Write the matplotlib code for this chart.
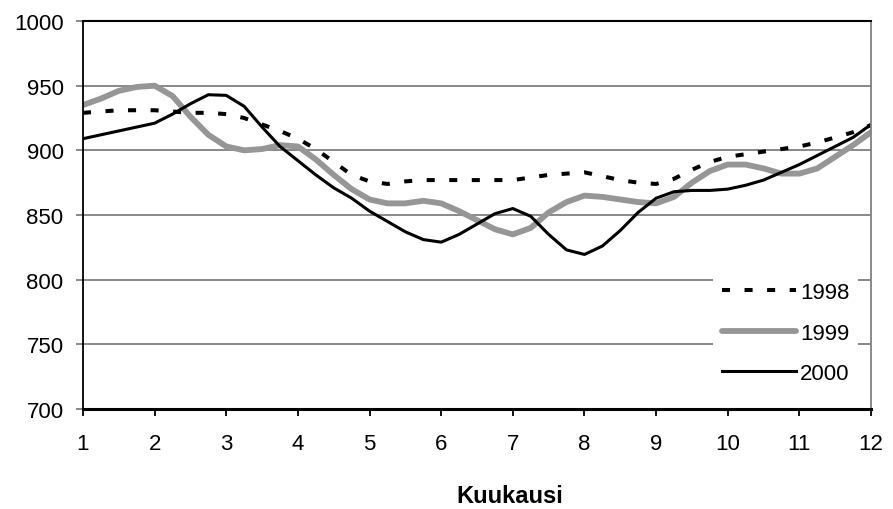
import matplotlib.pyplot as plt

# months at quarter-month steps
months = [1 + 0.25 * i for i in range(45)]

y1998 = [929, 930, 931, 931, 931, 930, 929, 929, 928, 925, 920, 915, 909,
         901, 891, 881, 876, 874, 876, 877, 877, 877, 877, 877, 877, 879,
         881, 882, 883, 880, 877, 875, 874, 878, 885, 891, 895, 897, 899,
         901, 903, 906, 910, 914, 919.5]
y1999 = [935, 940, 946, 949, 950, 942, 926, 912, 903, 900, 901, 904, 903,
         893, 881, 870, 862, 859, 859, 861, 859, 853, 846, 839, 835, 840,
         852, 860, 865, 864, 862, 860, 859, 864, 875, 884, 889, 889, 886,
         882, 882, 886, 895, 904, 914]
y2000 = [909, 912, 915, 918, 921, 928, 936, 943, 942.5, 934, 918, 903, 892,
         881, 871, 863, 853, 845, 837, 831, 829, 835, 843, 851, 855, 849,
         835, 823, 819.5, 826, 838, 852, 863, 868, 869, 869, 870, 873, 877,
         883, 889, 896, 903, 910, 920]

xticks = list(range(1, 13))
yticks = [700, 750, 800, 850, 900, 950, 1000]

plt.rcParams['font.family'] = ['Liberation Sans', 'DejaVu Sans']

fig = plt.figure(figsize=(8.93, 5.10), dpi=100)
ax = fig.add_axes([83 / 893, 1 - 410 / 510, (871 - 83) / 893, (410 - 22) / 510])

ax.plot(months, y1998, color='black', lw=2.9, linestyle=(0, (2.0, 3.6)),
        label='1998', dash_capstyle='butt')
ax.plot(months, y1999, color='#969696', lw=4.2, label='1999',
        solid_capstyle='round')
ax.plot(months, y2000, color='black', lw=2.2, label='2000')

ax.set_xlim(1, 12)
ax.set_ylim(700, 1000)
ax.set_xticks(xticks)
ax.set_yticks(yticks)
ax.yaxis.grid(True, color='#808080', lw=1.3)
ax.set_axisbelow(True)

for s in ['left', 'bottom', 'top']:
    ax.spines[s].set_color('black')
ax.spines['left'].set_linewidth(1.3)
ax.spines['bottom'].set_linewidth(2.2)
ax.spines['top'].set_linewidth(1.5)
ax.spines['right'].set_color('#808080')
ax.spines['right'].set_linewidth(1.3)

ax.tick_params(axis='y', length=5, width=1.3, color='#808080', pad=9,
               labelsize=16)
ax.tick_params(axis='x', length=5, width=1.3, color='black', pad=12,
               labelsize=16)

fig.text(510 / 893, 1 - 497 / 510, 'Kuukausi', ha='center', va='center',
         fontsize=17, fontweight='bold')

leg = ax.legend(loc='upper right', bbox_to_anchor=(0.984, 0.35), frameon=True,
                fontsize=16, handlelength=3.3, handletextpad=0.2,
                labelspacing=0.88, borderpad=0.4, borderaxespad=0)
leg.get_frame().set_edgecolor('none')
leg.get_frame().set_facecolor('white')
leg.get_frame().set_alpha(1)

fig.savefig('out.png', dpi=100)
